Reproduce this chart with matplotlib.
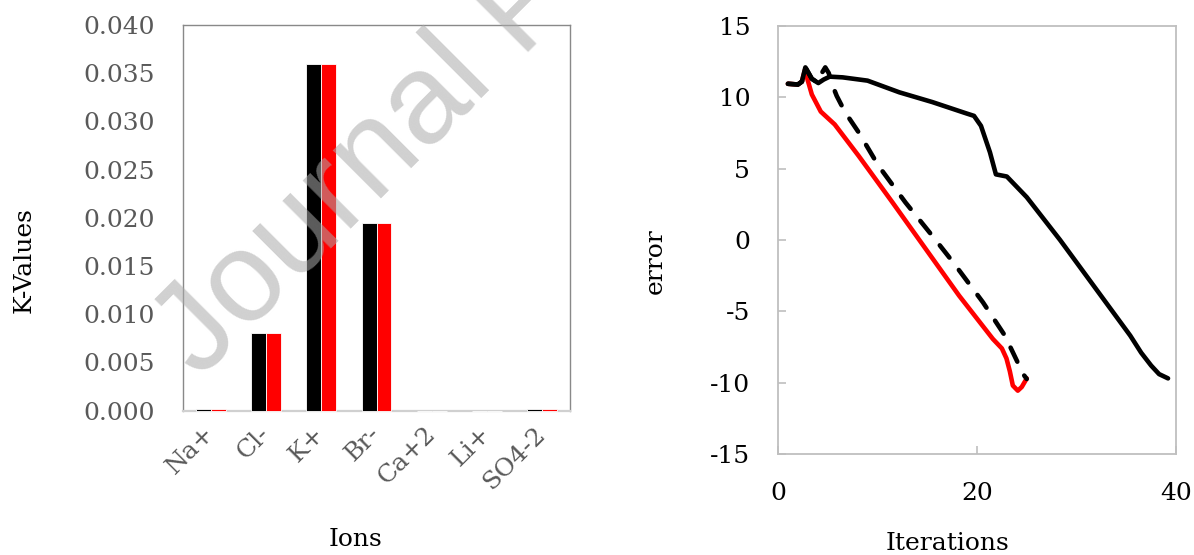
import matplotlib
matplotlib.use("Agg")
import matplotlib.pyplot as plt
import matplotlib.transforms as mtransforms
import numpy as np

# ---- data: left panel (K-values per ion) ----
ions = ["Na+", "Cl-", "K+", "Br-", "Ca+2", "Li+", "SO4-2"]
k_black = [0.0002, 0.0080, 0.0360, 0.0195, 0.0, 0.0, 0.0002]
k_red = [0.0002, 0.0080, 0.0360, 0.0195, 0.0, 0.0, 0.0002]
k_ticks = [0.000, 0.005, 0.010, 0.015, 0.020, 0.025, 0.030, 0.035, 0.040]

# ---- data: right panel (error vs iterations) ----
solid_x = [1, 2, 2.4, 2.75, 3.4, 4.05, 4.6, 5.2, 6.5, 9.0, 12.2, 15.5, 18.9, 19.7,
           20.4, 21.3, 21.9, 23.0, 25.0, 28.35, 35.4, 36.5, 37.5, 38.3, 39.2]
solid_y = [10.95, 10.9, 11.1, 12.1, 11.3, 11.0, 11.25, 11.45, 11.4, 11.17, 10.35, 9.67,
           8.88, 8.7, 8.0, 6.15, 4.6, 4.45, 3.0, 0.0, -6.7, -7.9, -8.8, -9.4, -9.7]
dash_x = [1, 2, 2.4, 2.75, 3.4, 4.05, 4.4, 4.75, 5.1, 5.5, 5.9, 6.75, 8.1, 10.1, 12.8,
          15.5, 17.6, 20.6, 22.8, 24.1, 24.5, 25.0]
dash_y = [10.95, 10.9, 11.1, 12.1, 11.3, 11.0, 11.7, 12.1, 11.7, 10.8, 10.1, 8.95, 7.55,
          5.2, 2.64, 0.3, -1.56, -4.37, -6.7, -8.6, -9.27, -9.74]
red_x = [1, 2, 2.4, 2.7, 3.4, 4.3, 5.7, 8.1, 11.5, 14.85, 18.2, 21.6, 22.5, 22.96,
         23.3, 23.6, 24.1, 24.5, 25.0]
red_y = [10.95, 10.9, 11.1, 11.9, 10.2, 9.0, 8.1, 5.9, 2.64, -0.63, -3.9, -6.94, -7.6,
         -8.3, -9.2, -10.2, -10.56, -10.3, -9.7]
err_ticks = [-15, -10, -5, 0, 5, 10, 15]
it_ticks = [0, 20, 40]

SERIF = "DejaVu Serif"
FS = 18
GRAY_TXT = "#595959"

W, H = 1194, 555
fig = plt.figure(figsize=(W / 100, H / 100), dpi=100)
fig.patch.set_facecolor("white")

# ---------------- left: bar chart ----------------
ax1 = fig.add_axes([183 / W, (H - 410.5) / H, 387 / W, 385.5 / H])
x = np.arange(len(ions))
bw = 0.27
ax1.bar(x - bw / 2, k_black, bw, color="black", edgecolor="white", linewidth=0.6,
        zorder=3, clip_on=False)
ax1.bar(x + bw / 2, k_red, bw, color="#FF0000", edgecolor="white", linewidth=0.6,
        zorder=3, clip_on=False)
ax1.set_xlim(-0.5, len(ions) - 0.5)
ax1.set_ylim(0, 0.04)
ax1.set_yticks(k_ticks)
ax1.set_yticklabels([f"{v:.3f}" for v in k_ticks], family=SERIF, fontsize=FS, color=GRAY_TXT)
ax1.set_xticks(x)
ax1.set_xticklabels(ions, family=SERIF, fontsize=FS, color=GRAY_TXT, rotation=45,
                    ha="right", va="center", rotation_mode="anchor")
offset = mtransforms.ScaledTranslation(17 / 100, 0, fig.dpi_scale_trans)
for lab in ax1.get_xticklabels():
    lab.set_transform(lab.get_transform() + offset)
ax1.tick_params(axis="both", length=0)
ax1.tick_params(axis="y", pad=20)
ax1.tick_params(axis="x", pad=14)
for side in ("left", "top", "right"):
    ax1.spines[side].set_color("#898989")
    ax1.spines[side].set_linewidth(1.0)
ax1.spines["bottom"].set_color("#d0d0d0")
ax1.spines["bottom"].set_linewidth(1.6)
ax1.set_ylabel("K-Values", family=SERIF, fontsize=FS, color="black", va="center")
ax1.yaxis.set_label_coords(-0.41, 0.39)
ax1.set_xlabel("Ions", family=SERIF, fontsize=FS, color="black", va="center")
ax1.xaxis.set_label_coords(0.447, -0.335)

# ---------------- right: error curves ----------------
ax2 = fig.add_axes([778 / W, (H - 454) / H, 398 / W, 428 / H])
ax2.plot(solid_x, solid_y, color="black", lw=3.3, solid_capstyle="round",
         solid_joinstyle="round", zorder=3)
ax2.plot(dash_x, dash_y, color="black", lw=3.3, ls=(0, (3.4, 3.4)),
         dash_capstyle="round", zorder=3)
ax2.plot(red_x, red_y, color="#FF0000", lw=3.3, solid_capstyle="round",
         solid_joinstyle="round", zorder=2)
ax2.set_xlim(0, 40)
ax2.set_ylim(-15, 15)
ax2.set_xticks(it_ticks)
ax2.set_yticks(err_ticks)
ax2.set_xticklabels([str(v) for v in it_ticks], family=SERIF, fontsize=FS, color="black")
ax2.set_yticklabels([str(v) for v in err_ticks], family=SERIF, fontsize=FS, color="black")
ax2.tick_params(axis="both", direction="in", length=6, width=1.2, color="#bfbfbf")
ax2.tick_params(axis="y", pad=20)
ax2.tick_params(axis="x", pad=20)
for side in ax2.spines:
    ax2.spines[side].set_color("#bfbfbf")
    ax2.spines[side].set_linewidth(1.3)
ax2.set_ylabel("error", family=SERIF, fontsize=FS, color="black", va="center")
ax2.yaxis.set_label_coords(-0.309, 0.451)
ax2.set_xlabel("Iterations", family=SERIF, fontsize=FS, color="black", va="center")
ax2.xaxis.set_label_coords(0.425, -0.208)

# ---------------- watermark ----------------
fig.text(200 / W, (H - 380) / H, "Journal Pre-proof", rotation=45, rotation_mode="anchor",
         ha="left", va="baseline", fontsize=92, family="Liberation Sans",
         color="#aaaaaa", alpha=0.55, zorder=10)

fig.savefig("out.png", dpi=100, facecolor="white")
